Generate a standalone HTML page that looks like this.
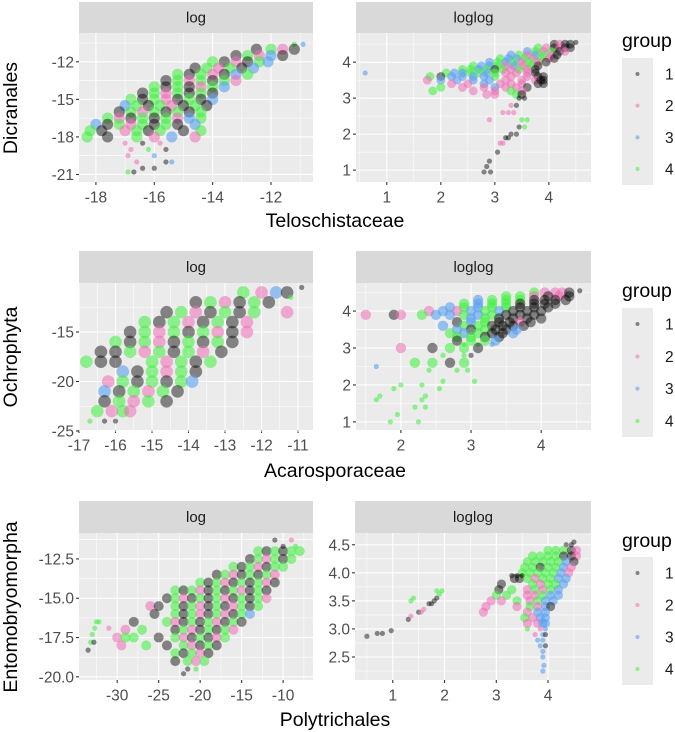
<!DOCTYPE html>
<html><head><meta charset="utf-8"><style>
html,body{margin:0;padding:0;background:#fff;}
svg{display:block;font-family:"Liberation Sans",Arial,sans-serif;}
</style></head><body>
<svg id="chart" width="675" height="732" viewBox="0 0 675 732" xmlns="http://www.w3.org/2000/svg"></svg>
<script>
// Data rows: "y|x values|group digits"
const dicranalesLog = ["-10.6|-11.2 -10.9|43","-11|-12.5 -12.0 -11.6 -11.2|1421","-11.5|-13.2 -12.8 -12.4 -12.0 -11.6|14231","-12|-14.0 -13.6 -13.2 -12.8 -12.4 -12.1|412143","-12.5|-14.6 -14.2 -13.8 -13.4 -13.0 -12.6|142413","-13|-15.2 -14.8 -14.4 -14.0 -13.6 -13.2 -12.8|4142134","-13.5|-15.6 -15.2 -14.8 -14.4 -14.0 -13.6 -13.2|1424142","-14|-16.0 -15.6 -15.2 -14.8 -14.4 -14.0 -13.6|4141243","-14.5|-16.4 -16.0 -15.6 -15.2 -14.8 -14.4 -14.0|1424141","-15|-16.8 -16.4 -16.0 -15.6 -15.2 -14.8 -14.4 -14.0|41421413","-15.5|-17.0 -16.6 -16.2 -15.8 -15.4 -15.0 -14.6 -14.2|34142141","-16|-17.2 -16.8 -16.4 -16.0 -15.6 -15.2 -14.8 -14.4|14241414","-16.5|-17.6 -17.2 -16.8 -16.4 -16.0 -15.6 -15.2 -14.8 -14.4|421414234","-17|-18.0 -17.6 -17.2 -16.8 -16.4 -16.0 -15.6 -15.2 -14.6|314241413","-17.5|-18.2 -17.8 -17.0 -16.6 -16.2 -15.8 -15.0 -14.4|41241414","-18|-18.3 -17.6 -16.6 -16.0 -15.4 -14.6|414232","-18.5|-17.0 -16.4 -15.8|212","-19|-16.8 -16.2 -15.6|241","-19.5|-16.9 -16.0|23","-20|-16.6 -15.6 -15.4|213","-20.5|-16.4 -16.0|11","-20.8|-16.9 -16.7|41"];
const dicranalesLoglog = ["4.55|4.5|1","4.5|4.1 4.2 4.3 4.4|1211","4.4|3.8 3.95 4.1 4.2 4.3 4.4|421211","4.3|3.6 3.75 3.9 4.05 4.2 4.3|342412","4.2|3.3 3.45 3.6 3.75 3.9 4.05 4.15|3423421","4.1|3.1 3.25 3.4 3.55 3.7 3.85 4.0 4.1|43342421","4.0|2.9 3.05 3.2 3.35 3.5 3.65 3.8 3.95|34342421","3.9|2.6 2.75 2.9 3.05 3.2 3.35 3.5 3.65 3.8|433423241","3.8|2.4 2.55 2.7 2.85 3.0 3.15 3.3 3.45 3.6 3.75|4434142421","3.7|2.1 2.25 2.4 2.55 2.7 2.85 3.0 3.2 3.4 3.6 3.75|43344342221","3.6|1.8 2.0 2.2 2.4 2.6 2.8 3.0 3.3 3.6 3.8 3.9|41333342211","3.5|1.75 2.0 2.3 2.6 2.9 3.2 3.5 3.75 3.85 3.9|2333322211","3.4|2.2 2.5 2.8 3.1 3.3 3.5 3.8 3.9|22322211","3.3|2.0 2.4 2.8 3.0 3.2 3.4 3.6|4223221","3.2|1.85 2.6 3.0 3.3 3.5|42242","3.1|2.85 3.0 3.4 3.5|2241","3.7|0.6|3","3.0|3.45 3.55|11","2.8|3.3 3.4|21","2.6|3.15 3.25 3.35|222","2.4|2.9 3.5 3.6|244","2.2|3.45 3.55|14","2.0|3.3 3.4|11","1.9|3.2 3.25|11","1.75|3.1 3.15|22","1.5|3.05|1","1.25|2.9|1","1.1|2.85|1","0.95|2.8 2.92|11"];
const ochrophytaLog = ["-10.5|-10.9|1","-11|-12.5 -12.0 -11.6 -11.3|4231","-11.5|-11.2|4","-12|-13.8 -13.4 -13.0 -12.6 -12.2 -11.8|142141","-13|-14.6 -14.2 -13.8 -13.4 -13.0 -12.6 -12.2 -11.3|14214142","-14|-15.2 -14.8 -14.4 -14.0 -13.6 -13.2 -12.8 -12.4|41421412","-15|-15.6 -15.2 -14.8 -14.4 -14.0 -13.6 -13.2 -12.8 -12.4|142414212","-16|-16.0 -15.6 -15.2 -14.8 -14.4 -14.0 -13.6 -13.2 -12.8|414214141","-17|-16.4 -16.0 -15.6 -15.2 -14.8 -14.4 -14.0 -13.6 -13.1|114241421","-18|-16.8 -16.4 -16.0 -15.0 -14.6 -14.2 -13.8 -13.4|41142414","-19|-15.8 -15.4 -15.0 -14.6 -14.2 -13.8|314241","-20|-16.2 -15.8 -15.4 -15.0 -14.6 -14.2 -13.9|2414143","-21|-16.3 -15.9 -15.5 -15.1 -14.7 -14.3|314241","-22|-16.3 -15.9 -15.5 -15.1 -14.6|14241","-23|-16.5 -16.1 -15.8 -15.6|4242","-24|-16.7 -16.3 -16.0|411"];
const ochrophytaLoglog = ["4.55|4.55|1","4.5|3.9 4.05 4.2 4.3 4.4|42221","4.4|3.5 3.7 3.9 4.1 4.25 4.4|442121","4.3|3.1 3.3 3.5 3.7 3.9 4.05 4.2 4.35|34441111","4.2|2.9 3.1 3.3 3.5 3.7 3.9 4.05 4.2|43441111","4.1|2.7 2.9 3.1 3.3 3.5 3.7 3.9 4.1|34344111","4.0|2.4 2.6 2.8 3.0 3.2 3.4 3.6 3.8 4.0|232343111","3.9|1.5 1.9 2.0 2.3 2.5 2.7 2.9 3.1 3.3 3.5 3.7 3.9|212433434111","3.8|3.0 3.2 3.4 3.6 3.8 4.0|341111","3.7|2.8 3.0 3.2 3.4 3.55 3.7 3.85|1341121","3.6|2.6 2.9 3.1 3.3 3.45 3.6 3.75|3441111","3.5|2.8 3.0 3.2 3.35 3.5 3.65|314113","3.4|2.7 2.9 3.1 3.3 3.45 3.6|434113","3.3|2.8 3.0 3.2 3.4|4411","3.2|2.8 3.0 3.2 3.35|1443","3.1|2.9 3.1 3.3|443","3.0|2.0 2.45 2.7 2.9 3.1|21441","2.8|2.6 2.9 3.0|441","2.6|2.2 2.45 2.7 2.9|4414","2.5|1.65|3","2.4|2.4 2.8 2.95|444","2.1|2.6 3.05|44","2.0|2.0 2.3|44","1.9|1.9 2.55|44","1.7|1.7 2.35|44","1.6|1.65 2.3|44","1.4|2.2 2.35|44","1.2|1.95|4","1.0|1.85 2.25|44"];
const entoLog = ["-11.3|-11 -9|12","-11.7|-10 -8.5|14","-12|-13 -12 -11 -10 -9 -8|414144","-12.5|-14 -13 -12 -11 -10 -9|142414","-13|-16 -15 -14 -13 -12 -11 -10|4142144","-13.5|-18 -17 -16 -15 -14 -13 -12 -11|14214142","-14|-20 -19 -18 -17 -16 -15 -14 -13 -12 -11|4142141421","-14.5|-23 -22 -21 -20 -19 -18 -17 -16 -15 -14 -13 -12|414214142141","-15|-24 -23 -22 -21 -20 -19 -18 -17 -16 -15 -14 -13 -12|1421414214142","-15.5|-26 -25 -23 -22 -21 -20 -19 -18 -17 -16 -15 -14 -13|2141421412414","-16|-25.5 -23 -22 -21 -20 -19 -18 -17 -16 -15 -14|14142142143","-16.5|-28 -24 -23 -22 -21 -20 -19 -18 -17 -16 -15|14214142141","-17|-29 -27 -23 -22 -21 -20 -19 -18 -17 -16|2414214142","-17.5|-30 -29 -28 -25 -23 -22 -21 -20 -19 -18 -17|24414214124","-18|-29.5 -26.5 -24 -22 -21 -20 -19 -18|24142141","-18.5|-23 -22 -21 -20 -19|41421","-19|-23 -21.5 -20.5 -19.5|1424","-19.5|-21.5 -20.5|14","-19.8|-22|1","-18.3|-33.5|1","-17.8|-33.2 -32.8|41","-17.3|-33|4","-16.9|-32.7 -31|42","-16.5|-32.5 -32.2|44"];
const entoLoglog = ["4.55|4.5|1","4.5|4.35 4.45|11","4.4|4.0 4.15 4.3 4.45 4.55|44412","4.3|3.7 3.85 4.0 4.15 4.3 4.45 4.55|4444112","4.2|3.6 3.75 3.9 4.05 4.2 4.35 4.5|4444431","4.1|3.55 3.7 3.85 4.0 4.15 4.3 4.45|4414432","4.0|3.5 3.65 3.8 3.95 4.1 4.25 4.4|4444432","3.95|3.3 3.4 3.5|111","3.9|3.35 3.45 3.6 3.75 3.9 4.05 4.2 4.35|11424433","3.8|3.1 3.7 3.85 4.0 4.15 4.3|142443","3.7|3.05 3.3 3.6 3.75 3.9 4.05 4.2|1424243","3.6|3.0 3.2 3.6 3.75 3.9 4.05 4.2|4422433","3.5|2.9 3.1 3.4 3.65 3.8 3.95 4.1|2242433","3.4|2.8 3.4 3.65 3.8 3.95 4.05|224231","3.3|2.75 3.6 3.8 3.95|2233","3.2|3.55 3.7 3.85 3.95|4233","3.1|3.6 3.8 3.9 3.95|2233","3.0|3.6 3.85 3.95|423","2.9|3.75 3.9 3.95|231","2.8|3.8 3.9|33","2.7|3.85 3.95|31","2.6|3.9|3","2.5|3.9|3","2.35|3.92|3","2.25|3.9|3","3.17|1.3|1","3.23|1.35|2","3.3|1.5 1.55|12","3.35|1.6|2","3.45|1.7 1.75|11","3.5|1.8 1.35|14","3.55|1.85 1.4|14","3.62|1.9|4","3.68|1.95 1.85|44","2.87|0.5|1","2.92|0.7 0.8|11","2.97|0.97|1"];
const xTicks1L = [-18,-16,-14,-12], yTicks1L = [-12,-15,-18,-21];
const xTicks1R = [1,2,3,4], yTicks1R = [4,3,2,1];
const xTicks2L = [-17,-16,-15,-14,-13,-12,-11], yTicks2L = [-15,-20,-25];
const xTicks2R = [2,3,4], yTicks2R = [4,3,2,1];
const xTicks3L = [-30,-25,-20,-15,-10], yTicks3L = [-12.5,-15.0,-17.5,-20.0];
const xTicks3R = [1,2,3,4], yTicks3R = [4.5,4.0,3.5,3.0,2.5];
const groups = ["1","2","3","4"];

const NS="http://www.w3.org/2000/svg";
const svg=document.getElementById('chart');
const COL={"1":"rgba(0,0,0,0.45)","2":"rgba(238,110,180,0.55)","3":"rgba(90,160,240,0.6)","4":"rgba(60,240,60,0.55)"};
function el(tag,attrs,parent){const e=document.createElementNS(NS,tag);for(const k in attrs)e.setAttribute(k,attrs[k]);(parent||svg).appendChild(e);return e;}
function txt(s,attrs,parent){const t=el('text',attrs,parent);t.textContent=s;return t;}

function panel(c){
  const g=el('g',{});
  
  
  const sx=v=>c.x0+(v-c.xd[0])/(c.xd[1]-c.xd[0])*(c.x1-c.x0);
  const sy=v=>c.y1-(v-c.yd[0])/(c.yd[1]-c.yd[0])*(c.y1-c.y0);
  const strip=el('rect',{x:c.x0,y:c.sy0,width:c.x1-c.x0,height:c.y0-c.sy0,fill:'#D9D9D9'},g);
  
  
  const st=txt(c.strip,{x:(c.x0+c.x1)/2,y:(c.sy0+c.y0)/2+5,'text-anchor':'middle','font-size':15,fill:'#1A1A1A'},g);
  
  
  el('rect',{x:c.x0,y:c.y0,width:c.x1-c.x0,height:c.y1-c.y0,fill:'#EBEBEB'},g);
  const xs=c.xt, ys=c.yt;
  const xstep=xs[1]-xs[0], ystep=ys[1]-ys[0];
  for(let k=-2;k<xs.length+2;k++){const v=xs[0]+(k+0.5)*xstep;const p=sx(v);if(p>c.x0&&p<c.x1)el('line',{x1:p,x2:p,y1:c.y0,y2:c.y1,stroke:'#fff','stroke-width':0.55},g);}
  for(let k=-2;k<ys.length+2;k++){const v=ys[0]+(k+0.5)*ystep;const p=sy(v);if(p>c.y0&&p<c.y1)el('line',{x1:c.x0,x2:c.x1,y1:p,y2:p,stroke:'#fff','stroke-width':0.55},g);}
  xs.forEach(v=>{const p=sx(v);el('line',{x1:p,x2:p,y1:c.y0,y2:c.y1,stroke:'#fff','stroke-width':1.1},g);
    el('line',{x1:p,x2:p,y1:c.y1,y2:c.y1+3,stroke:'#333','stroke-width':1.1},g);
    const t=txt(String(v),{x:p,y:c.y1+20.5,'text-anchor':'middle','font-size':15.5,fill:'#4D4D4D'},g);
    
    });
  ys.forEach(v=>{const p=sy(v);el('line',{x1:c.x0,x2:c.x1,y1:p,y2:p,stroke:'#fff','stroke-width':1.1},g);
    el('line',{x1:c.x0-3,x2:c.x0,y1:p,y2:p,stroke:'#333','stroke-width':1.1},g);
    const t=txt(c.dec?v.toFixed(1):String(v),{x:c.x0-5,y:p+5.5,'text-anchor':'end','font-size':15.5,fill:'#4D4D4D'},g);
    
    });
  const pts=el('g',{},g);
  
  
  c.data.forEach(row=>{const parts=row.split('|');const yv=parseFloat(parts[0]);const xv=parts[1].trim().split(/\s+/).map(Number);const gr=parts[2]||'';
    const rad=xv.length>=4?c.r:2.6;
    xv.forEach((x,i)=>{const grp=gr[i]||'1';
      const d=el('circle',{cx:sx(x),cy:sy(yv),r:rad,fill:COL[grp]},pts);
      
      });});
}
function rowDecor(r){
  const xt=txt(r.xtitle,{x:335,y:r.xty,'text-anchor':'middle','font-size':19.5,fill:'#000'});
  
  
  const yt=txt(r.ytitle,{x:0,y:0,'text-anchor':'middle','font-size':19.5,fill:'#000',transform:`translate(17,${r.ytc}) rotate(-90)`});
  
  
  const lg=el('g',{});
  
  
  txt('group',{x:622,y:r.lgy+7,'font-size':19.5,fill:'#000'},lg);
  el('rect',{x:622,y:r.lb0,width:31,height:r.lb1-r.lb0,fill:'#EBEBEB'},lg);
  groups.forEach((gname,i)=>{const cy=r.lb0+16+i*(r.lb1-r.lb0-32)/3;
    const d=el('circle',{cx:637.5,cy:cy,r:2,fill:COL[gname]},lg);
    
    
    const t=txt(gname,{x:665,y:cy+5.5,'font-size':15.5,fill:'#1A1A1A'},lg);
    
    });
}
panel({name:'dicranales-log-panel',strip:'log',x0:79,x1:313,sy0:2,y0:33,y1:182,xd:[-18.58,-10.56],yd:[-21.6,-9.7],xt:xTicks1L,yt:yTicks1L,data:dicranalesLog,r:5.6});
panel({name:'dicranales-loglog-panel',strip:'loglog',x0:356,x1:591,sy0:2,y0:33,y1:182,xd:[0.43,4.78],yd:[0.67,4.81],xt:xTicks1R,yt:yTicks1R,data:dicranalesLoglog,r:4.4});
panel({name:'ochrophyta-log-panel',strip:'log',x0:79,x1:313,sy0:251,y0:283,y1:430,xd:[-17.0,-10.59],yd:[-24.9,-10.05],xt:xTicks2L,yt:yTicks2L,data:ochrophytaLog,r:6.3});
panel({name:'ochrophyta-loglog-panel',strip:'loglog',x0:356,x1:591,sy0:251,y0:283,y1:430,xd:[1.36,4.71],yd:[0.78,4.76],xt:xTicks2R,yt:yTicks2R,data:ochrophytaLoglog,r:5.2});
panel({name:'entomobryomorpha-log-panel',strip:'log',x0:79,x1:313,sy0:501,y0:533,y1:680,xd:[-34.6,-6.4],yd:[-20.2,-10.85],xt:xTicks3L,yt:yTicks3L,data:entoLog,r:5,dec:true});
panel({name:'entomobryomorpha-loglog-panel',strip:'loglog',x0:355,x1:591,sy0:501,y0:533,y1:680,xd:[0.27,4.83],yd:[2.09,4.71],xt:xTicks3R,yt:yTicks3R,data:entoLoglog,r:4.6,dec:true});
rowDecor({xtitle:'Teloschistaceae',xty:227,ytitle:'Dicranales',ytc:108,lgy:40,lb0:58,lb1:185});
rowDecor({xtitle:'Acarosporaceae',xty:477,ytitle:'Ochrophyta',ytc:357,lgy:290,lb0:308,lb1:437});
rowDecor({xtitle:'Polytrichales',xty:726,ytitle:'Entomobryomorpha',ytc:607,lgy:540,lb0:557,lb1:685});
</script>
</body></html>
